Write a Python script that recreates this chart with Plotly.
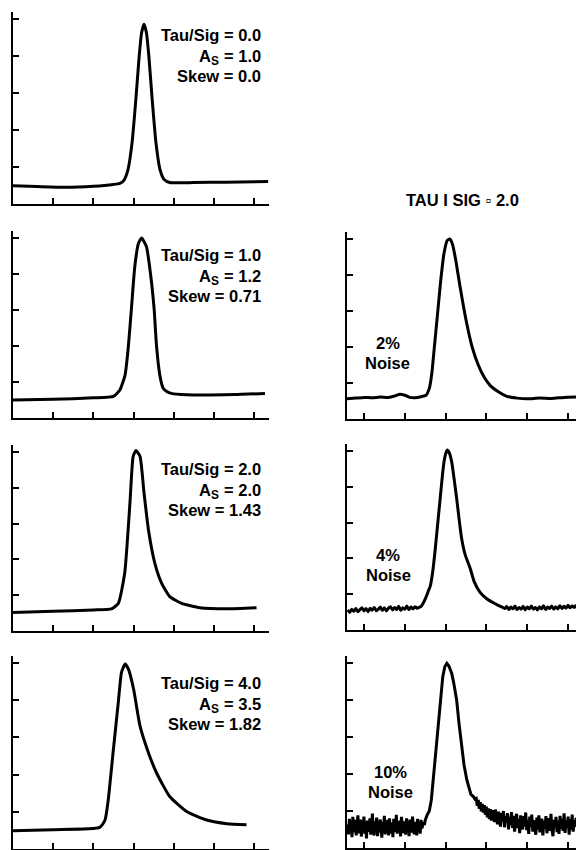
import numpy as np
import plotly.graph_objects as go

W, H = 576, 850

# ---------------- Data ----------------
# Left column: Tau/Sig = 0.0, 1.0, 2.0, 4.0
l1_x = [0, 0.6, 1.3, 2.0, 2.5, 2.66, 2.76, 2.86, 2.96, 3.06, 3.14, 3.2, 3.26, 3.32, 3.38, 3.46, 3.56, 3.66, 3.76, 3.9, 4.5, 5.3, 6.35]
l1_y = [0.49, 0.47, 0.45, 0.48, 0.53, 0.56, 0.64, 0.92, 1.63, 2.87, 4.0, 4.63, 4.86, 4.63, 4.0, 2.87, 1.63, 0.92, 0.66, 0.58, 0.58, 0.59, 0.61]

l2_x = [0, 1.0, 2.0, 2.5, 2.66, 2.79, 2.87, 2.95, 3.03, 3.12, 3.2, 3.32, 3.42, 3.51, 3.57, 3.66, 3.74, 3.85, 4.0, 4.5, 5.5, 6.27]
l2_y = [0.5, 0.52, 0.56, 0.6, 0.78, 1.2, 1.98, 3.09, 4.2, 4.85, 5.0, 4.76, 4.02, 3.05, 2.02, 1.15, 0.82, 0.72, 0.67, 0.64, 0.65, 0.68]

l3_x = [0, 1.0, 2.0, 2.45, 2.62, 2.78, 2.91, 2.99, 3.06, 3.16, 3.26, 3.37, 3.53, 3.7, 3.9, 4.2, 4.65, 5.32, 6.06]
l3_y = [0.52, 0.55, 0.59, 0.62, 0.77, 1.62, 3.58, 4.88, 5.04, 4.88, 3.86, 2.83, 1.89, 1.33, 0.96, 0.77, 0.65, 0.62, 0.65]

l4_x = [0, 1.0, 2.16, 2.29, 2.37, 2.49, 2.62, 2.7, 2.79, 2.87, 3.0, 3.16, 3.37, 3.57, 3.9, 4.32, 4.82, 5.32, 5.81]
l4_y = [0.49, 0.52, 0.58, 0.78, 1.32, 2.59, 3.94, 4.75, 4.97, 4.84, 4.3, 3.31, 2.59, 2.05, 1.41, 1.01, 0.78, 0.68, 0.65]

# Right column: Tau/Sig = 2.0 with 2 %, 4 %, 10 % noise
r2_x = [0.58, 0.8, 1.0, 1.2, 1.4, 1.6, 1.75, 1.88, 2.0, 2.12, 2.25, 2.4, 2.52, 2.6, 2.66, 2.72, 2.8, 2.88, 2.96, 3.04, 3.1, 3.17, 3.25, 3.35, 3.5, 3.65, 3.8, 3.95, 4.1, 4.3, 4.5, 4.75, 5.0, 5.3, 5.6, 5.9, 6.2]
r2_y = [0.56, 0.58, 0.6, 0.59, 0.61, 0.6, 0.64, 0.69, 0.66, 0.6, 0.59, 0.62, 0.66, 0.85, 1.25, 1.95, 2.9, 3.85, 4.6, 4.96, 5.0, 4.85, 4.4, 3.7, 2.75, 2.0, 1.5, 1.15, 0.92, 0.75, 0.63, 0.58, 0.56, 0.58, 0.57, 0.6, 0.61]

# 4 % noise: noisy baseline before the peak, the peak, noisy baseline after
r3_pre_range = (0.6, 2.35)
r3_pre_y = [0.56, 0.49, 0.58, 0.52, 0.60, 0.51, 0.57, 0.62, 0.53, 0.60, 0.51, 0.61, 0.55, 0.63, 0.54, 0.58, 0.64, 0.55,
            0.62, 0.53, 0.61, 0.65, 0.56, 0.63, 0.57, 0.66, 0.55, 0.62, 0.58, 0.67, 0.57, 0.64, 0.59, 0.65, 0.61, 0.63]
r3_peak_x = [2.4, 2.45, 2.52, 2.58, 2.62, 2.68, 2.74, 2.8, 2.86, 2.92, 2.96, 3.0, 3.04, 3.09, 3.15, 3.21, 3.27, 3.33, 3.39, 3.48, 3.6, 3.7, 3.84, 4.0, 4.17, 4.3, 4.4]
r3_peak_y = [0.66, 0.75, 0.92, 1.1, 1.21, 1.6, 2.2, 2.9, 3.6, 4.3, 4.69, 4.92, 5.03, 4.95, 4.69, 4.2, 3.68, 3.1, 2.57, 2.1, 1.73, 1.35, 1.06, 0.88, 0.76, 0.68, 0.63]
r3_post_range = (4.45, 6.2)
r3_post_y = [0.60, 0.66, 0.57, 0.64, 0.59, 0.67, 0.57, 0.63, 0.58, 0.66, 0.56, 0.64, 0.59, 0.67, 0.58, 0.63, 0.56, 0.65,
             0.59, 0.68, 0.57, 0.64, 0.60, 0.67, 0.58, 0.65, 0.59, 0.68, 0.60, 0.66, 0.61, 0.69, 0.62, 0.67, 0.63, 0.70]

# 10 % noise
r4_pre_range = (0.6, 2.46)
r4_pre_y = [0.64, 0.37, 0.79, 0.45, 0.71, 0.29, 0.84, 0.53, 0.42, 0.76, 0.34, 0.66, 0.88, 0.40, 0.58, 0.77, 0.31, 0.63,
            0.48, 0.85, 0.39, 0.68, 0.26, 0.74, 0.56, 0.44, 0.80, 0.36, 0.61, 0.93, 0.47, 0.34, 0.72, 0.53, 0.82, 0.32,
            0.60, 0.42, 0.77, 0.64, 0.28, 0.71, 0.50, 0.87, 0.37, 0.63, 0.45, 0.76, 0.34, 0.80, 0.55, 0.40, 0.69, 0.29,
            0.79, 0.58, 0.44, 0.90, 0.39, 0.66, 0.48, 0.74, 0.31, 0.84, 0.53, 0.40, 0.72, 0.61, 0.36, 0.80, 0.45, 0.68,
            0.32, 0.77, 0.56, 0.42, 0.85, 0.50, 0.37, 0.71, 0.60, 0.34, 0.79, 0.47, 0.64, 0.39, 0.76, 0.53, 0.61, 0.70]
r4_peak_x = [2.48, 2.5, 2.55, 2.6, 2.65, 2.7, 2.76, 2.82, 2.88, 2.93, 2.98, 3.03, 3.08, 3.12, 3.15, 3.2, 3.27, 3.33, 3.39, 3.45, 3.52, 3.58, 3.62, 3.68, 3.72]
r4_peak_y = [0.62, 0.75, 0.9, 1.0, 1.3, 1.93, 2.7, 3.46, 4.1, 4.63, 4.9, 4.99, 4.92, 4.8, 4.72, 4.45, 4.0, 3.35, 2.74, 2.25, 1.84, 1.6, 1.45, 1.39, 1.32]
r4_post_range = (3.75, 6.2)
r4_post_y = [1.34, 1.14, 1.30, 1.06, 1.24, 0.99, 1.19, 0.96, 1.16, 0.90, 1.12, 0.83, 1.07, 0.78, 1.05, 0.74, 1.02, 0.84,
             0.70, 1.04, 0.80, 0.64, 0.98, 0.76, 0.58, 0.95, 0.72, 1.00, 0.56, 0.86, 0.68, 0.94, 0.50, 0.84, 0.62, 0.97,
             0.54, 0.86, 0.44, 0.82, 0.92, 0.54, 0.78, 0.40, 0.88, 0.62, 0.50, 0.86, 0.58, 0.96, 0.48, 0.76, 0.38, 0.85,
             0.58, 0.90, 0.44, 0.75, 0.54, 0.36, 0.82, 0.50, 0.88, 0.42, 0.70, 0.79, 0.34, 0.74, 0.52, 0.86, 0.40, 0.70,
             0.81, 0.46, 0.92, 0.50, 0.32, 0.76, 0.56, 0.84, 0.43, 0.73, 0.38, 0.87, 0.52, 0.79, 0.46, 0.94, 0.41, 0.74,
             0.54, 0.85, 0.36, 0.78, 0.50, 0.90, 0.44, 0.75, 0.57, 0.82]

tau_sig = ["0.0", "1.0", "2.0", "4.0"]
a_s = ["1.0", "1.2", "2.0", "3.5"]
skew = ["0.0", "0.71", "1.43", "1.82"]
noise_labels = ["2%", "4%", "10%"]
column_title = "TAU I SIG \u25ab 2.0"

x_ticks = [1, 2, 3, 4, 5, 6]
y_ticks = [1, 2, 3, 4, 5]


def seg(rng, ys):
    return list(np.linspace(rng[0], rng[1], len(ys)))


r3_x = seg(r3_pre_range, r3_pre_y) + r3_peak_x + seg(r3_post_range, r3_post_y)
r3_y = r3_pre_y + r3_peak_y + r3_post_y
r4_x = seg(r4_pre_range, r4_pre_y) + r4_peak_x + seg(r4_post_range, r4_post_y)
r4_y = r4_pre_y + r4_peak_y + r4_post_y

# ---------------- Layout (pixel geometry) ----------------
FONT = "Liberation Sans, Arial, Helvetica, sans-serif"
FS = 16.5
LEFT_X = (13, 269, [0, 6.37])
RIGHT_X = (347, 576, [0.583, 6.195])
YMAX = 5.2

panels = [
    # xs, ys, xgeom, bottom_px, unit_px, line_shape
    (l1_x, l1_y, LEFT_X, 204, 37.0, "spline"),
    (l2_x, l2_y, LEFT_X, 418, 36.0, "spline"),
    (l3_x, l3_y, LEFT_X, 631, 35.8, "spline"),
    (l4_x, l4_y, LEFT_X, 849, 37.2, "spline"),
    (r2_x, r2_y, RIGHT_X, 419, 36.0, "spline"),
    (r3_x, r3_y, RIGHT_X, 630, 35.8, "spline"),
    (r4_x, r4_y, RIGHT_X, 848, 37.0, "linear"),
]
left_text_top = [35, 255, 469, 683]
noise_text_top = [343, 555, 772]
noise_text_x = [1.58, 1.59, 1.64]

fig = go.Figure()
annotations = []
tfont = dict(family=FONT, size=FS, color="black", weight="bold")
sfont = dict(family=FONT, size=FS * 0.72, color="black", weight="bold")


def ann(x, y, xr, yr, text, xanchor, font, xshift=0, yshift=0):
    annotations.append(dict(x=x, y=y, xref=xr, yref=yr, text=text, showarrow=False,
                            xanchor=xanchor, yanchor="middle", font=font,
                            xshift=xshift, yshift=yshift))


for i, (xs, ys, xg, bottom, unit, shape) in enumerate(panels):
    n = i + 1
    xa = "xaxis" if n == 1 else f"xaxis{n}"
    ya = "yaxis" if n == 1 else f"yaxis{n}"
    xr = "x" if n == 1 else f"x{n}"
    yr = "y" if n == 1 else f"y{n}"
    top = bottom - YMAX * unit
    fig.add_trace(go.Scatter(
        x=xs, y=ys, mode="lines", xaxis=xr, yaxis=yr,
        line=dict(color="black", width=3, shape=shape, smoothing=0.5),
        showlegend=False, hoverinfo="skip"))
    common = dict(showline=True, linecolor="black", linewidth=2, ticks="inside",
                  ticklen=6, tickwidth=1.5, tickcolor="black", showticklabels=False,
                  showgrid=False, zeroline=False, fixedrange=True)
    fig.layout[xa] = dict(domain=[xg[0] / W, xg[1] / W], range=xg[2], anchor=yr,
                          tickvals=x_ticks, **common)
    fig.layout[ya] = dict(domain=[1 - bottom / H, 1 - top / H], range=[0, YMAX], anchor=xr,
                          tickvals=y_ticks, **common)

    if i < 4:
        tx = 6.22
        y0 = (bottom - left_text_top[i]) / unit
        y1 = (bottom - (left_text_top[i] + 21)) / unit
        y2 = (bottom - (left_text_top[i] + 41)) / unit
        ann(tx, y0, xr, yr, f"Tau/Sig = {tau_sig[i]}", "right", tfont)
        # "A_S = x.x" built from three pieces (subscript S)
        eq_w = FS * 2.252     # width of "= x.x"
        sp_w = FS * 0.278     # space
        s_w = FS * 0.72 * 0.667
        ann(tx, y1, xr, yr, f"= {a_s[i]}", "right", tfont)
        ann(tx, y1, xr, yr, "S", "right", sfont, xshift=-(eq_w + sp_w), yshift=-5)
        ann(tx, y1, xr, yr, "A", "right", tfont, xshift=-(eq_w + sp_w + s_w))
        ann(tx, y2, xr, yr, f"Skew = {skew[i]}", "right", tfont)
    else:
        j = i - 4
        for txt, dy in zip((noise_labels[j], "Noise"), (0, 20)):
            yv = (bottom - (noise_text_top[j] + dy)) / unit
            ann(noise_text_x[j], yv, xr, yr, txt, "center", tfont)

annotations.append(dict(x=462 / W, y=1 - 200 / H, xref="paper", yref="paper",
                        text=column_title, showarrow=False,
                        xanchor="center", yanchor="middle", font=tfont))

fig.update_layout(width=W, height=H, autosize=False,
                  margin=dict(l=0, r=0, t=0, b=0),
                  paper_bgcolor="white", plot_bgcolor="white",
                  annotations=annotations)

fig.write_html("out.html", config={"displayModeBar": False})
